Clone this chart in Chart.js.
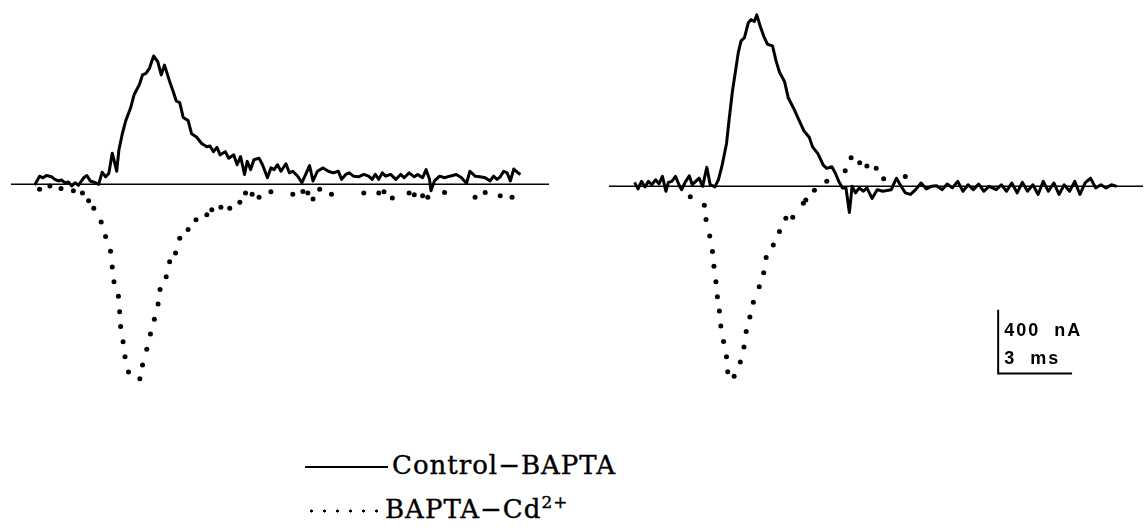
<!DOCTYPE html>
<html>
<head>
<meta charset="utf-8">
<script src="https://cdn.jsdelivr.net/npm/chart.js@4/dist/chart.umd.min.js"></script>
<style>
    body { margin: 0; background: #fff; }
    #wrap { position: relative; width: 1147px; height: 528px; overflow: hidden; }
    canvas { position: absolute; }
    #left { left: 7px; top: 0; }
    #right { left: 605px; top: 2px; }
    .legend { position: absolute; font-family: "DejaVu Serif", serif; font-size: 26px; letter-spacing: 1px; color: #000; white-space: nowrap; -webkit-text-stroke: 0.4px #000; }
    .solid { display: inline-block; width: 83px; height: 0; border-top: 2px solid #000; vertical-align: middle; margin-right: 4px; }
    .dots { display: inline-block; width: 78px; height: 4px; vertical-align: middle; margin-right: 2px;
        background-image: radial-gradient(circle, #000 1.3px, transparent 1.8px); background-size: 13px 4px; background-repeat: repeat-x; }
</style>
</head>
<body>
<div id="wrap">
    <canvas id="left" width="546" height="400"></canvas>
    <canvas id="right" width="542" height="400"></canvas>
    <div class="legend" style="left:305px; top:450px;"><span class="solid"></span>Control−BAPTA</div>
    <div class="legend" style="left:305px; top:492px;"><span class="dots"></span>BAPTA−Cd<sup style="font-size:17px">2+</sup></div>
</div>
<script>
// time in ms, current in nA
const leftSolidTime = [0.96, 1.16, 1.30, 1.44, 1.64, 1.78, 1.92, 2.05, 2.19, 2.33, 2.47, 2.60, 2.74, 2.95, 3.08, 3.22, 3.42, 3.56, 3.70, 3.84,
    3.97, 4.11, 4.18, 4.29, 4.38, 4.52, 4.66, 4.86, 5.00, 5.21, 5.34, 5.48, 5.62, 5.79, 5.96, 6.10, 6.23, 6.44, 6.58, 6.71,
    6.85, 6.99, 7.19, 7.33, 7.53, 7.74, 7.95, 8.08, 8.22, 8.36, 8.49, 8.70, 8.84, 9.04, 9.18, 9.32, 9.48, 9.59, 9.73, 9.86,
    10.07, 10.21, 10.41, 10.55, 10.68, 10.82, 10.96, 11.16, 11.30, 11.44, 11.64, 11.81, 11.99, 12.12, 12.26, 12.44, 12.67, 12.88, 13.08, 13.29,
    13.42, 13.59, 13.73, 13.90, 14.11, 14.32, 14.52, 14.66, 14.79, 14.93, 15.07, 15.21, 15.41, 15.62, 15.82, 15.96, 16.16, 16.37, 16.51, 16.71,
    16.85, 16.99, 17.05, 17.19, 17.40, 17.60, 17.81, 18.08, 18.29, 18.49, 18.63, 18.84, 19.04, 19.25, 19.45, 19.59, 19.73, 19.86, 20.00, 20.14,
    20.27, 20.41, 20.55, 20.68];
const leftSolidCurrent = [-5, 51, 41, 55, 47, 31, 21, 27, 10, 14, -10, 10, -6, 41, 55, 21, 10, 0, 76, 47,
    68, 195, 154, 82, 215, 318, 400, 482, 564, 625, 687, 697, 728, 806, 769, 687, 748, 646, 584, 523,
    513, 420, 400, 318, 297, 256, 236, 240, 205, 232, 185, 205, 164, 185, 123, 174, 62, 144, 92, 154,
    164, 123, 41, 103, 92, 123, 82, 129, 72, 82, 51, 10, 72, 117, 21, 82, 103, 82, 72, 82,
    31, 62, 72, 51, 47, 62, 51, 31, 62, 31, 72, 51, 62, 31, 62, 41, 72, 47, 62, 41,
    92, 31, -41, 21, 51, 41, 51, 62, 41, 6, 82, 51, 47, 41, 21, 51, 31, 47, 82, 72,
    21, 96, 76, 62];

const leftDotTime = [1.16, 1.58, 2.03, 2.53, 2.90, 3.15, 3.36, 3.66, 3.84, 4.04, 4.11, 4.18, 4.36, 4.41, 4.45, 4.55, 4.63, 4.77, 5.23, 5.34,
    5.51, 5.66, 5.82, 5.97, 6.05, 6.30, 6.44, 6.68, 6.85, 7.19, 7.51, 7.95, 8.15, 8.52, 8.88, 9.29, 9.52, 9.79, 10.07, 10.55,
    11.44, 11.85, 12.05, 12.26, 12.53, 13.01, 14.32, 14.93, 15.14, 15.48, 16.16, 16.37, 16.71, 16.92, 17.60, 18.84, 19.25, 19.86, 20.34];
const leftDotCurrent = [-31, -10, -27, -41, -55, -103, -150, -236, -328, -420, -519, -611, -703, -800, -892, -988, -1082, -1179, -1220, -1134,
    -1035, -939, -847, -752, -660, -580, -486, -431, -338, -283, -222, -191, -160, -144, -150, -113, -55, -62, -82, -47,
    -62, -45, -55, -92, -31, -62, -55, -55, -47, -86, -55, -66, -72, -82, -51, -82, -51, -72, -82];

const rightSolidTime = [1.04, 1.18, 1.32, 1.46, 1.60, 1.74, 1.89, 2.03, 2.17, 2.31, 2.41, 2.55, 2.70, 2.84, 2.95, 3.09, 3.26, 3.38, 3.52, 3.66,
    3.80, 3.97, 4.11, 4.30, 4.44, 4.58, 4.77, 4.87, 5.01, 5.15, 5.25, 5.36, 5.50, 5.65, 5.76, 5.90, 6.00, 6.14, 6.28, 6.43,
    6.64, 6.78, 6.92, 7.13, 7.28, 7.49, 7.70, 7.91, 8.13, 8.27, 8.48, 8.70, 8.84, 9.05, 9.19, 9.33, 9.48, 9.62, 9.76, 9.87,
    10.01, 10.16, 10.33, 10.47, 10.68, 10.89, 11.11, 11.46, 11.67, 11.86, 12.03, 12.24, 12.45, 12.67, 12.88, 13.09, 13.30, 13.52, 13.73, 13.94,
    14.16, 14.37, 14.58, 14.79, 15.01, 15.22, 15.43, 15.72, 15.93, 16.14, 16.35, 16.57, 16.78, 16.99, 17.21, 17.42, 17.63, 17.84, 18.06, 18.27,
    18.48, 18.70, 18.91, 19.12, 19.33, 19.55, 19.76, 19.97, 20.18, 20.40, 20.61];
const rightSolidCurrent = [25, -16, 31, -4, 31, 10, 41, 16, 62, -31, 25, 31, 62, 10, -21, 25, 66, 10, 31, 51,
    0, 119, 10, -4, 41, 123, 267, 410, 595, 738, 841, 912, 933, 1025, 1046, 1035, 1076, 1005, 943, 892,
    882, 789, 718, 656, 554, 492, 420, 349, 308, 246, 205, 133, 113, 123, 82, 31, -10, -10, -164, 0,
    -41, -10, -31, -10, -76, -21, -31, -21, 51, 0, -41, -51, -21, 21, -16, 0, 4, -21, 14, -10,
    31, -31, 10, -21, 14, -31, 0, -21, 10, -31, 21, -41, 25, -31, 10, -51, 31, -31, 21, -51,
    10, -31, 31, -51, 21, 51, -10, 10, -10, 10, 0];

const rightDotTime = [3.30, 3.87, 3.94, 4.09, 4.20, 4.26, 4.34, 4.40, 4.48, 4.54, 4.65, 4.77, 4.82, 5.08, 5.33, 5.48, 5.57, 5.72, 5.86, 6.10,
    6.28, 6.38, 6.67, 6.92, 7.18, 7.46, 7.89, 7.99, 8.34, 8.84, 9.59, 9.83, 10.18, 10.47, 10.85, 11.15, 12.03];
const rightDotCurrent = [-66, -119, -209, -312, -410, -502, -599, -693, -783, -877, -974, -1070, -1164, -1193, -1103, -1009, -912, -820, -728, -631,
    -543, -447, -369, -283, -201, -195, -107, -86, -25, 31, 98, 180, 148, 127, 113, 47, 62];

const leftEnd = 21.84;
const rightEnd = 21.68;
const currentTop = 1132;
const currentBottom = -1329;

// calibration bar: 400 nA, 3 ms
const barTime = 15.8;
const barCurrent = -1175;
const barHeight = 400;
const barWidth = 3;

function points(t, c) {
    return t.map((x, i) => ({x: x, y: c[i]}));
}

const scaleBar = {
    id: 'scaleBar',
    afterDraw(chart) {
        const { ctx, scales: { x, y } } = chart;
        const x0 = x.getPixelForValue(barTime);
        const x1 = x.getPixelForValue(barTime + barWidth);
        const y0 = y.getPixelForValue(barCurrent);
        const y1 = y.getPixelForValue(barCurrent + barHeight);
        ctx.save();
        ctx.strokeStyle = '#000';
        ctx.lineWidth = 2;
        ctx.beginPath();
        ctx.moveTo(x0, y1);
        ctx.lineTo(x0, y0);
        ctx.lineTo(x1, y0);
        ctx.stroke();
        ctx.fillStyle = '#000';
        ctx.font = 'bold 18px "Liberation Sans", sans-serif';
        ctx.letterSpacing = '2px';
        ctx.fillText('400  nA', x0 + 6, y1 + 26);
        ctx.fillText('3  ms', x0 + 6, y0 - 9);
        ctx.restore();
    }
};

function panel(id, end, solidT, solidC, dotT, dotC, plugins) {
    new Chart(document.getElementById(id), {
        type: 'line',
        data: {
            datasets: [
                {
                    data: [{x: 0, y: 0}, {x: end, y: 0}],
                    borderColor: '#000',
                    borderWidth: 1.5,
                    pointRadius: 0,
                },
                {
                    label: 'Control-BAPTA',
                    data: points(solidT, solidC),
                    borderColor: '#000',
                    borderWidth: 3,
                    borderJoinStyle: 'round',
                    pointRadius: 0,
                },
                {
                    label: 'BAPTA-Cd2+',
                    data: points(dotT, dotC),
                    showLine: false,
                    pointRadius: 2.5,
                    pointBorderWidth: 0,
                    pointBackgroundColor: '#000',
                },
            ]
        },
        options: {
            responsive: false,
            animation: false,
            layout: { padding: 0 },
            elements: { line: { tension: 0 } },
            clip: 6,
            plugins: { legend: { display: false }, tooltip: { enabled: false } },
            scales: {
                x: { type: 'linear', min: 0, max: end, display: false },
                y: { min: currentBottom, max: currentTop, display: false },
            }
        },
        plugins: plugins
    });
}

panel('left', leftEnd, leftSolidTime, leftSolidCurrent, leftDotTime, leftDotCurrent, []);
panel('right', rightEnd, rightSolidTime, rightSolidCurrent, rightDotTime, rightDotCurrent, [scaleBar]);
</script>
</body>
</html>
